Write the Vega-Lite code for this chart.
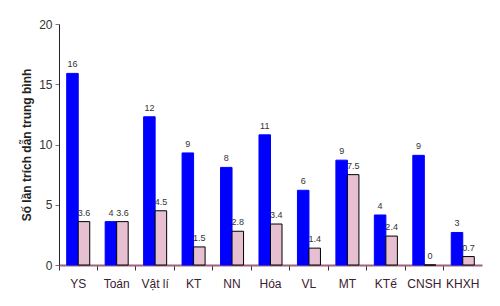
{
  "$schema": "https://vega.github.io/schema/vega-lite/v6.json",
  "width": 423,
  "height": 241,
  "autosize": "none",
  "padding": {"left": 59, "top": 24, "right": 18, "bottom": 41},
  "background": "white",
  "config": {"view": {"stroke": null}, "font": "Liberation Sans"},
  "data": {"values": [
    {"cat": "YS", "s": "a", "v": 15.9, "lab": "16"},
    {"cat": "YS", "s": "b", "v": 3.6, "lab": "3.6"},
    {"cat": "Toán", "s": "a", "v": 3.6, "lab": "4"},
    {"cat": "Toán", "s": "b", "v": 3.6, "lab": "3.6"},
    {"cat": "Vật lí", "s": "a", "v": 12.3, "lab": "12"},
    {"cat": "Vật lí", "s": "b", "v": 4.5, "lab": "4.5"},
    {"cat": "KT", "s": "a", "v": 9.3, "lab": "9"},
    {"cat": "KT", "s": "b", "v": 1.5, "lab": "1.5"},
    {"cat": "NN", "s": "a", "v": 8.1, "lab": "8"},
    {"cat": "NN", "s": "b", "v": 2.8, "lab": "2.8"},
    {"cat": "Hóa", "s": "a", "v": 10.8, "lab": "11"},
    {"cat": "Hóa", "s": "b", "v": 3.4, "lab": "3.4"},
    {"cat": "VL", "s": "a", "v": 6.2, "lab": "6"},
    {"cat": "VL", "s": "b", "v": 1.4, "lab": "1.4"},
    {"cat": "MT", "s": "a", "v": 8.7, "lab": "9"},
    {"cat": "MT", "s": "b", "v": 7.5, "lab": "7.5"},
    {"cat": "KTế", "s": "a", "v": 4.15, "lab": "4"},
    {"cat": "KTế", "s": "b", "v": 2.4, "lab": "2.4"},
    {"cat": "CNSH", "s": "a", "v": 9.1, "lab": "9"},
    {"cat": "CNSH", "s": "b", "v": 0, "lab": "0"},
    {"cat": "KHXH", "s": "a", "v": 2.7, "lab": "3"},
    {"cat": "KHXH", "s": "b", "v": 0.7, "lab": "0.7"}
  ]},
  "encoding": {
    "x": {
      "field": "cat", "type": "nominal", "sort": null,
      "scale": {"paddingInner": 0, "paddingOuter": 0},
      "axis": {
        "title": null, "labelAngle": 0, "bandPosition": 0,
        "domainColor": "#a0607f", "domainWidth": 2, "tickColor": "#333333",
        "tickSize": 5, "labelFontSize": 12, "labelColor": "#3a2030",
        "labelPadding": 8, "labelAlign": "center"
      }
    },
    "xOffset": {
      "field": "s", "type": "nominal",
      "scale": {"paddingInner": 0, "paddingOuter": 0.67}
    },
    "y": {
      "field": "v", "type": "quantitative",
      "scale": {"domain": [0, 20], "nice": false},
      "axis": {
        "title": "Số lần trích dẫn trung bình", "titleFontSize": 12,
        "titleFontWeight": "bold", "titleColor": "#222222", "titlePadding": 5,
        "values": [0, 5, 10, 15, 20], "grid": false,
        "domainColor": "#222222", "tickColor": "#a0607f", "tickSize": 4,
        "labelFontSize": 12, "labelColor": "#333333", "labelPadding": 3
      }
    }
  },
  "layer": [
    {
      "mark": {"type": "bar", "strokeWidth": 1},
      "encoding": {
        "fill": {
          "field": "s", "type": "nominal", "legend": null,
          "scale": {"domain": ["a", "b"], "range": ["#0000ff", "#e6bfd1"]}
        },
        "stroke": {
          "field": "s", "type": "nominal", "legend": null,
          "scale": {"domain": ["a", "b"], "range": ["#0000ff", "#000000"]}
        }
      }
    },
    {
      "mark": {"type": "text", "dy": -9, "fontSize": 9, "color": "#333333"},
      "encoding": {"text": {"field": "lab"}}
    }
  ]
}
